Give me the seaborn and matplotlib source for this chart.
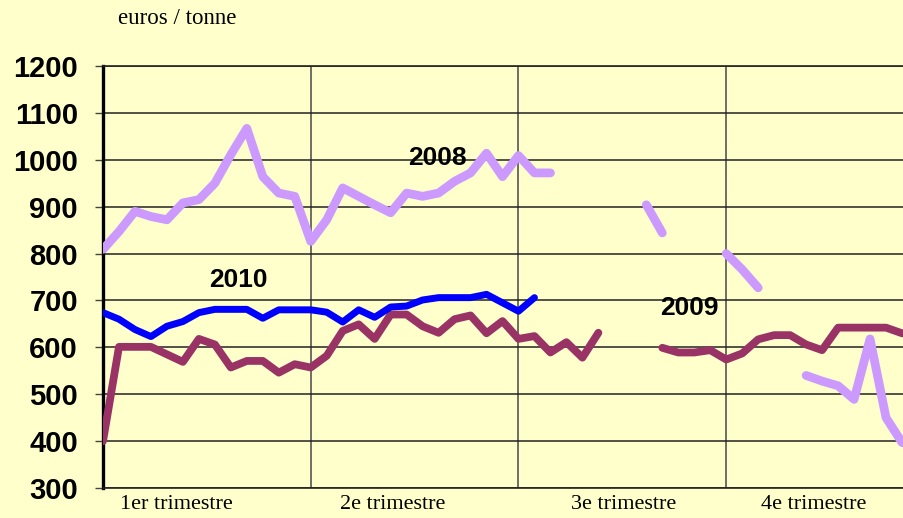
import numpy as np
import pandas as pd
import matplotlib
matplotlib.use("Agg")
import matplotlib.pyplot as plt
import seaborn as sns

# ---- data (weekly prices, euros / tonne) ----
weeks = list(range(52))
y2008 = [809, 847, 890, 879, 872, 908, 915, 950, 1011, 1067, 964, 929, 922, 826,
         872, 940, 922, 904, 887, 929, 922, 929, 954, 972, 1014, 964, 1009, 972,
         972, None, None, None, None, None, 904, 844, None, None, None, 800, 766,
         727, None, None, 540, 528, 518, 489, 618, 450, 397, 390]
y2009 = [400, 601, 601, 601, 585, 569, 618, 606, 557, 571, 571, 546, 564, 557,
         582, 635, 649, 618, 670, 670, 645, 631, 660, 668, 630, 656, 618, 624,
         589, 611, 578, 631, None, None, None, 599, 589, 589, 594, 574, 587, 617,
         626, 626, 606, 594, 642, 642, 642, 642, 630, 628]
y2010 = [674, 660, 638, 623, 645, 655, 674, 681, 681, 681, 662, 680, 680, 680,
         675, 654, 680, 664, 686, 688, 701, 706, 706, 706, 713, 695, 677, 706]
quarter_labels = ["1er trimestre", "2e trimestre", "3e trimestre", "4e trimestre"]
quarter_label_pos = [4.6, 18.1, 32.6, 44.5]
quarter_bounds = [13, 26, 39]
y_ticks = list(range(300, 1300, 100))
series_names = ["2008", "2009", "2010"]
label_pos = {"2008": (20.9, 1004), "2009": (36.7, 684), "2010": (8.5, 744)}

colors = {"2008": "#CC99FF", "2009": "#993366", "2010": "#0000FF"}
widths = {"2008": 6.3, "2009": 5.6, "2010": 5.0}


def to_frame(vals):
    df = pd.DataFrame({"week": weeks[:len(vals)], "value": vals}, dtype=float)
    df["seg"] = df["value"].isna().cumsum()
    return df.dropna()


bg = "#FFFFCC"
fig = plt.figure(figsize=(9.04, 5.18), dpi=100, facecolor=bg)
ax = fig.add_axes([103 / 904, (518 - 488) / 518, 1 - 103 / 904, (488 - 66) / 518])
ax.set_facecolor(bg)

for name, vals in zip(series_names, [y2008, y2009, y2010]):
    df = to_frame(vals)
    sns.lineplot(data=df, x="week", y="value", units="seg", estimator=None,
                 color=colors[name], lw=widths[name], ax=ax, legend=False,
                 solid_capstyle="round", solid_joinstyle="round", zorder=3)

ax.set_xlim(0, 801 / 15.98)
ax.set_ylim(300, 1200)
ax.set_yticks(y_ticks)
ax.set_yticklabels([str(v) for v in y_ticks], fontsize=21, fontweight="bold",
                   family="Liberation Sans")
ax.tick_params(axis="y", length=6, width=1, pad=12, color="#444444")

ax.set_xticks(quarter_label_pos)
ax.set_xticklabels(quarter_labels, fontsize=16, family="Liberation Serif")
ax.tick_params(axis="x", which="major", length=0, pad=5)
ax.set_xticks(quarter_bounds, minor=True)
ax.tick_params(axis="x", which="minor", length=0)

ax.grid(axis="y", which="major", color="#222222", lw=1.1, zorder=1)
ax.grid(axis="x", which="minor", color="#555555", lw=1.2, zorder=1)
ax.grid(axis="x", which="major", visible=False)

ax.set_xlabel("")
ax.set_ylabel("")
for s in ["top", "bottom"]:
    ax.spines[s].set_color("#222222")
    ax.spines[s].set_linewidth(1.2)
ax.spines["right"].set_visible(False)
ax.spines["left"].set_color("black")
ax.spines["left"].set_linewidth(2.4)

for name in series_names:
    x, y = label_pos[name]
    ax.text(x, y, name, ha="center", va="center", fontsize=19, fontweight="bold",
            family=["Liberation Sans Narrow", "Liberation Sans"], zorder=4)

fig.text(177 / 904, 1 - 18 / 518, "euros / tonne", ha="center", va="center",
         fontsize=16.5, family="Liberation Serif")

fig.savefig("out.png", dpi=100, facecolor=bg)
